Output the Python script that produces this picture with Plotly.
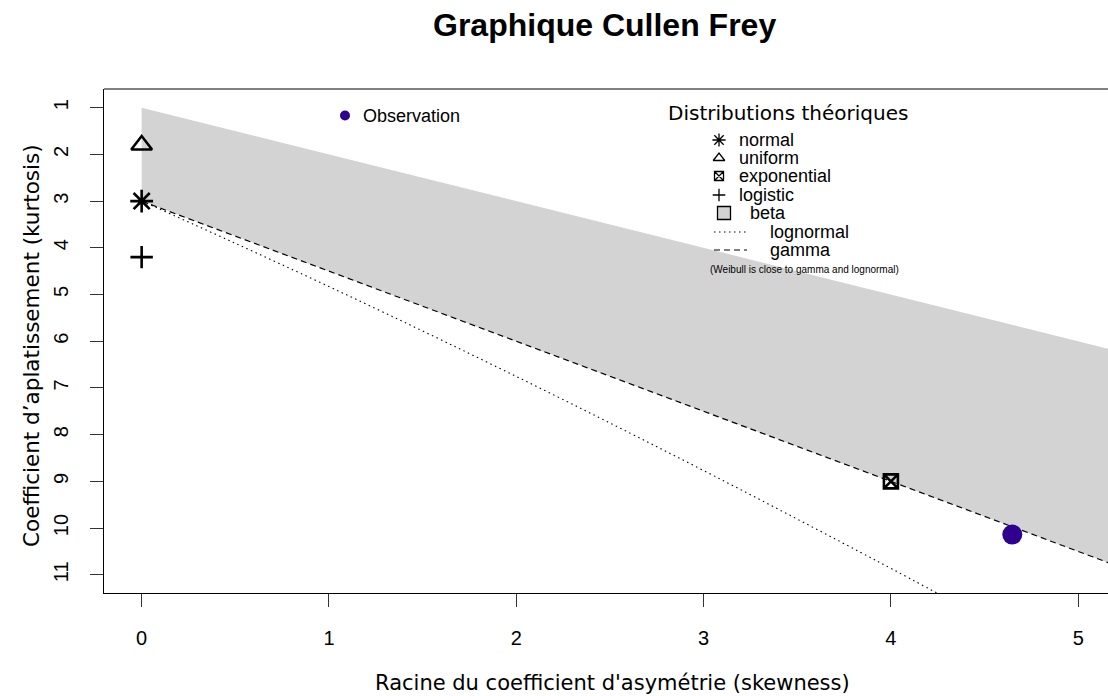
import plotly.graph_objects as go

# Theoretical distributions: (square of skewness, kurtosis)
ref_names = ["normal", "uniform", "exponential", "logistic"]
ref_skew2 = [0, 0, 4, 0]
ref_kurt = [3, 1.8, 9, 4.2]
ref_symbols = ["asterisk-open", "triangle-up-open", "square-x-open", "cross-thin-open"]

# Observed sample
obs_skew2 = [4.648]
obs_kurt = [10.14]

# Beta region (between kurtosis = skew² + 1 and the gamma line) and gamma line
bound_skew2 = [0, 5.3]
beta_lower_kurt = [1, 6.3]
gamma_kurt = [3, 10.95]

# Lognormal curve
lnorm_skew2 = [0, 0.091, 0.477, 1.014, 1.618, 2.298, 3.063, 3.926, 4.301]
lnorm_kurt = [3, 3.162, 3.861, 4.856, 6.008, 7.345, 8.898, 10.706, 11.509]

x_ticks = [0, 1, 2, 3, 4, 5]
y_ticks = [1, 2, 3, 4, 5, 6, 7, 8, 9, 10, 11]

W, H = 1108, 696
L, R, T, B = 104, 0, 89, 103
PW, PH = W - L - R, H - T - B

ARIAL = "Liberation Sans, Arial, sans-serif"
DEJAVU = "DejaVu Sans, Verdana, sans-serif"
PURPLE = "#2D0090"


def px(x):
    return (x - L) / PW


def py(y):
    return (H - B - y) / PH


fig = go.Figure()

# beta area
fig.add_trace(go.Scatter(
    x=bound_skew2 + bound_skew2[::-1],
    y=beta_lower_kurt + gamma_kurt[::-1],
    fill="toself", fillcolor="#D3D3D3", mode="lines",
    line=dict(width=0, color="#D3D3D3"), hoverinfo="skip",
))
# gamma line
fig.add_trace(go.Scatter(
    x=bound_skew2, y=gamma_kurt, mode="lines",
    line=dict(color="black", width=1.2, dash="6px,4px"),
))
# lognormal curve
fig.add_trace(go.Scatter(
    x=lnorm_skew2, y=lnorm_kurt, mode="lines",
    line=dict(color="black", width=1.1, dash="1.5px,3.5px", shape="spline"),
))
# theoretical points
ref_sizes = [19, 18, 14, 16]
for name, sx, k, sym, sz in zip(ref_names, ref_skew2, ref_kurt, ref_symbols, ref_sizes):
    fig.add_trace(go.Scatter(
        x=[sx], y=[k], mode="markers", name=name,
        marker=dict(symbol=sym, size=sz, color="black",
                    line=dict(color="black", width=2.6)),
    ))
# observation
fig.add_trace(go.Scatter(
    x=obs_skew2, y=obs_kurt, mode="markers", name="Observation",
    marker=dict(symbol="circle", size=20, color=PURPLE),
))


# --- legend glyphs, drawn on a pixel-scaled overlay axis ---
def glyph(x, y, sym, size, lw=1.3, color="black", fill=None):
    fig.add_trace(go.Scatter(
        x=[x], y=[y], mode="markers", xaxis="x2", yaxis="y2",
        marker=dict(symbol=sym, size=size, color=fill or color,
                    line=dict(color="black" if fill else color, width=lw)),
        hoverinfo="skip",
    ))


glyph(345, 115.5, "circle", 10, lw=0, color=PURPLE)
glyph(719, 140, "asterisk-open", 11)
glyph(719, 158, "triangle-up-open", 10)
glyph(719, 176, "square-x-open", 9)
glyph(719, 195, "cross-thin-open", 9)
glyph(724, 213, "square", 13, lw=1.3, fill="#D3D3D3")
fig.add_trace(go.Scatter(x=[714, 747], y=[232, 232], mode="lines", xaxis="x2", yaxis="y2",
                         line=dict(color="black", width=1, dash="1.5px,3.5px")))
fig.add_trace(go.Scatter(x=[714, 747], y=[250, 250], mode="lines", xaxis="x2", yaxis="y2",
                         line=dict(color="black", width=1.2, dash="6px,4px")))

annotations = []


def text(x, y, s, size, family=ARIAL, xanchor="left", angle=0, bold=False):
    annotations.append(dict(
        x=px(x), y=py(y), xref="paper", yref="paper", text=f"<b>{s}</b>" if bold else s,
        showarrow=False, xanchor=xanchor, yanchor="middle", textangle=angle,
        font=dict(family=family, size=size, color="black"),
    ))


text(604, 25, "Graphique Cullen Frey", 32, bold=True, xanchor="center")
text(612, 683, "Racine du coefficient d'asymétrie (skewness)", 21, family=DEJAVU, xanchor="center")
text(31, 346, "Coefficient d’aplatissement (kurtosis)", 21.5, family=DEJAVU, xanchor="center", angle=-90)
text(361, 115.5, "Observation", 18)
text(788, 113, "Distributions théoriques", 20, family=DEJAVU, xanchor="center")
text(737, 140, "normal", 18)
text(737, 158, "uniform", 18)
text(737, 176, "exponential", 18)
text(737, 195, "logistic", 18)
text(748, 213, "beta", 18)
text(768, 232, "lognormal", 18)
text(768, 250, "gamma", 18)
text(804, 269, "(Weibull is close to gamma and lognormal)", 10, xanchor="center")

fig.update_layout(
    width=W, height=H,
    margin=dict(l=L, r=R, t=T, b=B, pad=0),
    paper_bgcolor="white", plot_bgcolor="white",
    showlegend=False,
    annotations=annotations,
    shapes=[dict(type="line", xref="paper", yref="paper", x0=0, x1=1, y0=1, y1=1,
                 line=dict(color="black", width=1))],
    xaxis=dict(
        range=[-0.201, 5.159], tickvals=x_ticks, ticks="outside", ticklen=13,
        tickcolor="#333", tickwidth=1, showline=True, linecolor="black", linewidth=1,
        showgrid=False, zeroline=False, ticklabelstandoff=14,
        tickfont=dict(family=ARIAL, size=20, color="black"),
    ),
    yaxis=dict(
        range=[11.39, 0.6], tickvals=y_ticks, ticks="outside", ticklen=13,
        tickcolor="#333", tickwidth=1, showline=True, linecolor="black", linewidth=1,
        showgrid=False, zeroline=False, tickangle=-90, ticklabelstandoff=14,
        tickfont=dict(family=ARIAL, size=20, color="black"),
    ),
    xaxis2=dict(overlaying="x", anchor="y2", range=[L, W - R], visible=False, showgrid=False),
    yaxis2=dict(overlaying="y", anchor="x2", range=[H - B, T], visible=False, showgrid=False),
)

fig.write_html("out.html")
